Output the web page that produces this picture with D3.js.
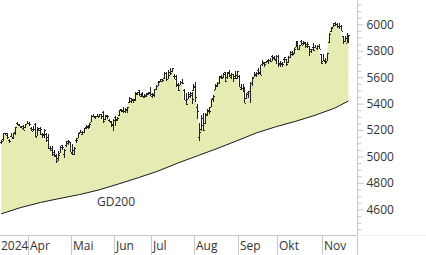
<!DOCTYPE html>
<html>
<head>
<meta charset="utf-8">
<script src="https://cdn.jsdelivr.net/npm/d3@7"></script>
<style>
  body { margin: 0; background: #fff; }
  svg { display: block; }
  text { font-family: "Open Sans", sans-serif; font-size: 12px; fill: #333; }
</style>
</head>
<body>
<svg id="chart" width="426" height="255"></svg>
<script>
/* global d3 */

// daily bars, 11 Mar 2024 .. 20 Nov 2024
const opens = [
  5111,5134,5174,5176,5123,5154,5139,5182,5254,5243,5220,5228,5226,5249,
  5257,5217,5195,5245,5158,5211,5218,5168,5172,5172,5150,5065,5068,5032,5005,4988,5029,5085,5019,5085,5114,5106,
  5029,5050,5123,5142,5187,5168,5189,5226,5233,5221,5264,5310,5303,5305,5299,5320,5340,5282,5316,5278,5259,5244,
  5298,5278,5314,5357,5343,5341,5353,5410,5441,5424,5431,5477,5500,5460,5459,5461,5460,5474,5489,
  5471,5462,5507,5537,5572,5585,5591,5635,5590,5638,5644,5610,5609,5543,5544,5566,5505,5429,5434,5476,5478,5505,
  5537,5377,5151,5206,5294,5252,5313,5351,5376,5442,5502,5531,5558,5604,5603,5637,5603,5640,5603,5624,5608,5613,
  5612,5507,5521,5507,5443,5490,5496,5557,5604,5615,5655,5641,5702,5709,5713,5733,5733,5762,5755,5727,
  5758,5698,5698,5737,5738,5714,5752,5778,5775,5829,5867,5816,5875,5860,5858,5833,5835,5815,5827,5829,5819,5833,5776,
  5723,5725,5722,5864,5947,5977,6008,6004,5986,5989,5913,5874,5858,5915
];
const highs = [
  5124,5180,5180,5180,5136,5176,5180,5225,5262,5246,5229,5236,5249,5265,
  5263,5220,5229,5257,5222,5219,5224,5178,5211,5176,5168,5076,5077,5052,5019,5039,5076,5089,5057,5114,5124,5111,
  5096,5074,5139,5181,5200,5191,5215,5240,5238,5250,5312,5325,5306,5325,5324,5324,5341,5311,5316,5282,5265,5280,
  5303,5298,5354,5362,5376,5365,5376,5448,5442,5433,5488,5490,5506,5479,5491,5472,5483,5491,5524,
  5479,5510,5540,5571,5583,5590,5636,5642,5655,5670,5669,5622,5614,5557,5570,5586,5509,5480,5488,5487,5487,5551,
  5566,5395,5250,5312,5331,5329,5356,5372,5436,5464,5546,5562,5609,5620,5633,5643,5642,5651,5628,5627,5646,5648,
  5613,5552,5547,5523,5484,5497,5561,5600,5636,5637,5671,5690,5733,5716,5725,5736,5742,5767,5764,5765,
  5765,5720,5718,5753,5739,5758,5796,5796,5823,5871,5875,5847,5878,5872,5866,5863,5835,5817,5862,5843,5847,5850,5776,
  5772,5742,5784,5937,5983,6012,6018,6010,6008,5993,5915,5909,5932,5920
];
const lows = [
  5091,5115,5161,5131,5105,5145,5131,5161,5240,5229,5216,5203,5214,5245,
  5230,5193,5194,5146,5154,5198,5161,5138,5139,5107,5053,5039,5007,4999,4954,4969,5027,5048,4991,5074,5089,5035,
  5013,5011,5101,5142,5178,5165,5180,5208,5211,5218,5262,5296,5284,5299,5298,5286,5256,5279,5280,5262,5223,5191,
  5234,5265,5307,5336,5331,5331,5327,5401,5403,5403,5421,5468,5455,5452,5448,5446,5451,5469,5460,
  5445,5453,5505,5534,5562,5566,5587,5570,5584,5620,5639,5584,5522,5498,5538,5551,5426,5391,5432,5444,5398,5494,
  5410,5283,5120,5194,5191,5249,5304,5325,5375,5415,5500,5528,5550,5584,5592,5560,5590,5603,5590,5561,5585,5584,
  5522,5504,5490,5402,5434,5442,5406,5535,5604,5604,5614,5615,5687,5676,5705,5702,5712,5724,5727,5703,
  5675,5678,5674,5704,5683,5709,5745,5764,5774,5825,5805,5808,5840,5846,5824,5822,5762,5784,5800,5822,5804,5813,5703,
  5723,5697,5722,5860,5942,5976,5986,5969,5966,5946,5854,5865,5857,5860
];
const closes = [
  5118,5175,5165,5150,5117,5149,5179,5225,5242,5234,5218,5204,5248,5254,
  5244,5206,5211,5147,5204,5202,5210,5161,5199,5123,5062,5051,5022,5011,4967,5011,5071,5072,5048,5100,5116,5036,
  5018,5064,5128,5181,5188,5188,5214,5223,5221,5247,5308,5297,5303,5308,5321,5307,5268,5305,5306,5267,5235,5278,
  5283,5291,5354,5353,5347,5361,5375,5421,5434,5432,5473,5487,5473,5465,5448,5469,5478,5483,5460,
  5475,5509,5537,5567,5573,5577,5634,5585,5615,5631,5667,5588,5545,5505,5564,5556,5427,5399,5459,5464,5436,5522,
  5447,5347,5186,5240,5200,5319,5344,5344,5434,5455,5543,5554,5608,5597,5621,5571,5635,5617,5626,5592,5592,5648,
  5529,5520,5503,5408,5471,5496,5554,5596,5626,5633,5635,5618,5714,5703,5719,5733,5722,5745,5738,5762,
  5709,5710,5700,5751,5696,5751,5792,5780,5815,5860,5815,5842,5841,5865,5854,5851,5797,5810,5808,5824,5833,5814,5705,
  5729,5713,5783,5929,5973,5996,6001,5984,5985,5949,5871,5894,5917,5917
];

// trading days per month in view
const monthLabels = ['2024', 'Apr', 'Mai', 'Jun', 'Jul', 'Aug', 'Sep', 'Okt', 'Nov'];
const monthDays = [14, 22, 22, 19, 22, 22, 20, 23, 14];

// 200-day average, read every 10 bars
const gdIdx = [0, 10, 20, 30, 40, 50, 60, 70, 80, 90, 100, 110, 120, 130, 140, 150, 160, 170, 177];
const gdVals = [4566, 4614, 4652, 4683, 4712, 4748, 4793, 4840, 4890, 4950, 5005, 5060, 5118, 5178, 5225, 5266, 5312, 5366, 5420];

const yTicks = [4600, 4800, 5000, 5200, 5400, 5600, 5800, 6000];
const yMinor = d3.range(4450, 6200, 50).filter(v => v % 200 !== 0);

const plotRight = 357;
const plotBottom = 235;
const n = Math.min(opens.length, highs.length, lows.length, closes.length);

const svg = d3.select('#chart');

let x = d3.scaleLinear().domain([0, 177]).range([1.2, 1.2 + 177 * 1.962]);
let y = d3.scaleLinear().domain([4406, 6184]).range([plotBottom, 0]);

svg.append('clipPath').attr('id', 'plotclip')
  .append('rect').attr('x', 0).attr('y', 0).attr('width', plotRight).attr('height', plotBottom);

let plot = svg.append('g').attr('clip-path', 'url(#plotclip)');

// area between price and GD200
let pts = [];
for (let i = 0; i < n; i += 1) pts.push([x(i), y(closes[i])]);
for (let k = gdIdx.length - 1; k >= 0; k -= 1) pts.push([x(gdIdx[k]), y(gdVals[k])]);
pts.push([x(0), y(closes[0])]);
plot.append('path')
  .attr('d', d3.line()(pts) + 'Z')
  .attr('fill', '#e6ebb4')
  .attr('stroke', 'none');

// GD200 line
plot.append('path')
  .datum(gdIdx.map((d, k) => [x(d), y(gdVals[k])]))
  .attr('d', d3.line())
  .attr('fill', 'none')
  .attr('stroke', '#1a1a1a')
  .attr('stroke-width', 1);

// OHLC bars
let bars = plot.append('g').attr('stroke', '#222').attr('stroke-width', 1).attr('shape-rendering', 'crispEdges');
let idx = d3.range(n);
bars.selectAll('.hl').data(idx).enter().append('line')
  .attr('x1', i => Math.round(x(i)) + 0.5).attr('x2', i => Math.round(x(i)) + 0.5)
  .attr('y1', i => y(highs[i])).attr('y2', i => y(lows[i]));
bars.selectAll('.op').data(idx).enter().append('line')
  .attr('x1', i => Math.round(x(i)) - 1).attr('x2', i => Math.round(x(i)))
  .attr('y1', i => Math.round(y(opens[i])) + 0.5).attr('y2', i => Math.round(y(opens[i])) + 0.5);
bars.selectAll('.cl').data(idx).enter().append('line')
  .attr('x1', i => Math.round(x(i)) + 1).attr('x2', i => Math.round(x(i)) + 2)
  .attr('y1', i => Math.round(y(closes[i])) + 0.5).attr('y2', i => Math.round(y(closes[i])) + 0.5);

svg.append('text').attr('x', 97).attr('y', 206).text('GD200');

// right axis
let grey = '#c8c8c8';
svg.append('line')
  .attr('x1', plotRight + 0.5).attr('x2', plotRight + 0.5)
  .attr('y1', 0).attr('y2', 255)
  .attr('stroke', grey);

let yAxis = svg.append('g').attr('transform', `translate(${plotRight + 0.5},0)`)
  .call(d3.axisRight(y).tickValues(yTicks).tickSize(6).tickPadding(3).tickFormat(d3.format('d')));
yAxis.select('.domain').remove();
yAxis.selectAll('line').attr('stroke', grey);
yAxis.selectAll('text').attr('font-family', null).attr('font-size', null);

let yMinorAxis = svg.append('g').attr('transform', `translate(${plotRight + 0.5},0)`)
  .call(d3.axisRight(y).tickValues(yMinor).tickSize(4).tickFormat(''));
yMinorAxis.select('.domain').remove();
yMinorAxis.selectAll('line').attr('stroke', grey);

// bottom time axis
svg.append('line')
  .attr('x1', 0).attr('x2', plotRight)
  .attr('y1', plotBottom + 0.5).attr('y2', plotBottom + 0.5)
  .attr('stroke', grey);
svg.append('line')
  .attr('x1', plotRight).attr('x2', 426)
  .attr('y1', plotBottom + 0.5).attr('y2', plotBottom + 0.5)
  .attr('stroke', '#f2f2f2');

let starts = [];
let acc = 0;
monthDays.forEach(d => { starts.push(acc); acc += d; });

let months = svg.append('g');
months.selectAll('line').data(starts.slice(1)).enter().append('line')
  .attr('x1', s => Math.round(x(s) - 1) + 0.5).attr('x2', s => Math.round(x(s) - 1) + 0.5)
  .attr('y1', plotBottom).attr('y2', 255)
  .attr('stroke', grey);
months.selectAll('text').data(starts).enter().append('text')
  .attr('x', (s, k) => k === 0 ? 1 : Math.round(x(s) - 1) + 2)
  .attr('y', 250)
  .text((s, k) => monthLabels[k]);
</script>
</body>
</html>
